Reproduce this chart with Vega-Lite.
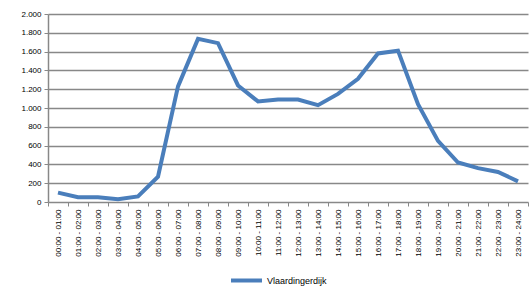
{
  "$schema": "https://vega.github.io/schema/vega-lite/v6.json",
  "width": 480,
  "height": 188,
  "autosize": "none",
  "padding": {"left": 48, "top": 14, "right": 1, "bottom": 85},
  "background": "white",
  "config": {"view": {"stroke": null}, "font": "Liberation Sans"},
  "data": {"values": [
    {"uur": "00:00 - 01:00", "waarde": 100, "locatie": "Vlaardingerdijk"},
    {"uur": "01:00 - 02:00", "waarde": 50, "locatie": "Vlaardingerdijk"},
    {"uur": "02:00 - 03:00", "waarde": 50, "locatie": "Vlaardingerdijk"},
    {"uur": "03:00 - 04:00", "waarde": 30, "locatie": "Vlaardingerdijk"},
    {"uur": "04:00 - 05:00", "waarde": 60, "locatie": "Vlaardingerdijk"},
    {"uur": "05:00 - 06:00", "waarde": 270, "locatie": "Vlaardingerdijk"},
    {"uur": "06:00 - 07:00", "waarde": 1230, "locatie": "Vlaardingerdijk"},
    {"uur": "07:00 - 08:00", "waarde": 1735, "locatie": "Vlaardingerdijk"},
    {"uur": "08:00 - 09:00", "waarde": 1690, "locatie": "Vlaardingerdijk"},
    {"uur": "09:00 - 10:00", "waarde": 1240, "locatie": "Vlaardingerdijk"},
    {"uur": "10:00 - 11:00", "waarde": 1070, "locatie": "Vlaardingerdijk"},
    {"uur": "11:00 - 12:00", "waarde": 1090, "locatie": "Vlaardingerdijk"},
    {"uur": "12:00 - 13:00", "waarde": 1090, "locatie": "Vlaardingerdijk"},
    {"uur": "13:00 - 14:00", "waarde": 1030, "locatie": "Vlaardingerdijk"},
    {"uur": "14:00 - 15:00", "waarde": 1150, "locatie": "Vlaardingerdijk"},
    {"uur": "15:00 - 16:00", "waarde": 1310, "locatie": "Vlaardingerdijk"},
    {"uur": "16:00 - 17:00", "waarde": 1580, "locatie": "Vlaardingerdijk"},
    {"uur": "17:00 - 18:00", "waarde": 1610, "locatie": "Vlaardingerdijk"},
    {"uur": "18:00 - 19:00", "waarde": 1040, "locatie": "Vlaardingerdijk"},
    {"uur": "19:00 - 20:00", "waarde": 650, "locatie": "Vlaardingerdijk"},
    {"uur": "20:00 - 21:00", "waarde": 420, "locatie": "Vlaardingerdijk"},
    {"uur": "21:00 - 22:00", "waarde": 360, "locatie": "Vlaardingerdijk"},
    {"uur": "22:00 - 23:00", "waarde": 320, "locatie": "Vlaardingerdijk"},
    {"uur": "23:00 - 24:00", "waarde": 220, "locatie": "Vlaardingerdijk"}
  ]},
  "mark": {"type": "line", "strokeWidth": 4, "strokeJoin": "miter"},
  "encoding": {
    "x": {
      "field": "uur", "type": "ordinal", "sort": null, "bandPosition": 0.5,
      "scale": {"type": "band", "paddingInner": 0, "paddingOuter": 0},
      "axis": {
        "title": null, "labelAngle": -90, "labelFontSize": 8, "labelColor": "#000",
        "tickBand": "extent", "tickSize": 4, "tickColor": "#888", "domain": false,
        "grid": false, "labelPadding": 3
      }
    },
    "y": {
      "field": "waarde", "type": "quantitative",
      "scale": {"domain": [0, 2000], "nice": false},
      "axis": {
        "title": null, "values": [0, 200, 400, 600, 800, 1000, 1200, 1400, 1600, 1800, 2000],
        "labelExpr": "replace(format(datum.value, ','), ',', '.')",
        "labelFontSize": 8, "labelColor": "#000", "labelPadding": 3,
        "grid": true, "gridColor": "#888", "gridWidth": 1.5,
        "tickColor": "#888", "tickSize": 4, "domainColor": "#888", "domainWidth": 1.5
      }
    },
    "color": {
      "field": "locatie", "type": "nominal",
      "scale": {"range": ["#4a7ebb"]},
      "legend": {
        "title": null, "orient": "none", "legendX": 181, "legendY": 249,
        "symbolType": "stroke", "symbolStrokeWidth": 4, "symbolSize": 960,
        "labelFontSize": 9, "labelColor": "#000", "labelOffset": 3
      }
    }
  }
}
